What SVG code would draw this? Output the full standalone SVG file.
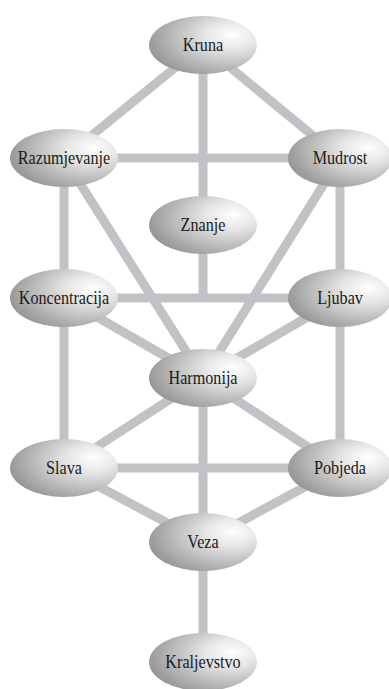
<svg xmlns="http://www.w3.org/2000/svg" width="389" height="689" viewBox="0 0 389 689">
<style>
.c line{stroke:#c2c2c6;stroke-width:9;stroke-linecap:butt}
.n ellipse{fill:url(#g)}
.n text{font-family:"Liberation Serif","DejaVu Serif",serif;font-size:19px;fill:#1a1a1a;text-anchor:middle;dominant-baseline:central;transform-box:fill-box;transform-origin:center;transform:scaleX(0.85)}
</style>
<defs>
<radialGradient id="g" cx="0.72" cy="0.38" r="0.8" fx="0.78" fy="0.32">
<stop offset="0" stop-color="#ffffff"/>
<stop offset="0.3" stop-color="#e6e6e6"/>
<stop offset="1" stop-color="#8e8e8e"/>
</radialGradient>
</defs>
<rect width="389" height="689" fill="#fff"/>
<g class="c" id="connectors">
<line x1="203" y1="45" x2="64" y2="158"/>
<line x1="203" y1="45" x2="340" y2="158"/>
<line x1="203" y1="45" x2="203" y2="225"/>
<line x1="64" y1="158" x2="340" y2="158"/>
<line x1="64" y1="158" x2="64" y2="298"/>
<line x1="340" y1="158" x2="340" y2="298"/>
<line x1="64" y1="158" x2="203" y2="378"/>
<line x1="340" y1="158" x2="203" y2="378"/>
<line x1="203" y1="225" x2="203" y2="298"/>
<line x1="64" y1="298" x2="340" y2="298"/>
<line x1="64" y1="298" x2="203" y2="378"/>
<line x1="340" y1="298" x2="203" y2="378"/>
<line x1="64" y1="298" x2="64" y2="468"/>
<line x1="340" y1="298" x2="340" y2="468"/>
<line x1="203" y1="378" x2="64" y2="468"/>
<line x1="203" y1="378" x2="340" y2="468"/>
<line x1="203" y1="378" x2="203" y2="542"/>
<line x1="64" y1="468" x2="340" y2="468"/>
<line x1="64" y1="468" x2="203" y2="542"/>
<line x1="340" y1="468" x2="203" y2="542"/>
<line x1="203" y1="542" x2="203" y2="662"/>
</g>
<g class="n" id="kruna"><ellipse cx="203" cy="45" rx="54" ry="29"/><text x="203" y="45">Kruna</text></g>
<g class="n" id="razumjevanje"><ellipse cx="64" cy="158" rx="54" ry="29"/><text x="64" y="158">Razumjevanje</text></g>
<g class="n" id="mudrost"><ellipse cx="340" cy="158" rx="52" ry="29"/><text x="340" y="158">Mudrost</text></g>
<g class="n" id="znanje"><ellipse cx="203" cy="225" rx="54" ry="29"/><text x="203" y="225">Znanje</text></g>
<g class="n" id="koncentracija"><ellipse cx="64" cy="298" rx="54" ry="29"/><text x="64" y="298">Koncentracija</text></g>
<g class="n" id="ljubav"><ellipse cx="340" cy="298" rx="52" ry="29"/><text x="340" y="298">Ljubav</text></g>
<g class="n" id="harmonija"><ellipse cx="203" cy="378" rx="54" ry="29"/><text x="203" y="378">Harmonija</text></g>
<g class="n" id="slava"><ellipse cx="64" cy="468" rx="54" ry="29"/><text x="64" y="468">Slava</text></g>
<g class="n" id="pobjeda"><ellipse cx="340" cy="468" rx="52" ry="29"/><text x="340" y="468">Pobjeda</text></g>
<g class="n" id="veza"><ellipse cx="203" cy="542" rx="54" ry="29"/><text x="203" y="542">Veza</text></g>
<g class="n" id="kraljevstvo"><ellipse cx="203" cy="662" rx="54" ry="29"/><text x="203" y="662">Kraljevstvo</text></g>
</svg>
